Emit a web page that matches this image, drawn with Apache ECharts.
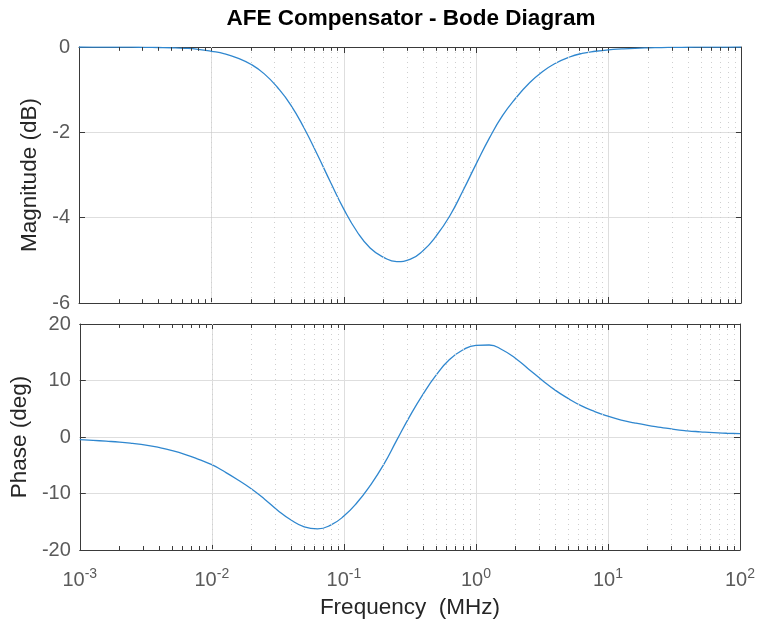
<!DOCTYPE html>
<html>
<head>
<meta charset="utf-8">
<script src="https://cdn.jsdelivr.net/npm/echarts@6/dist/echarts.min.js"></script>
<style>
  html, body { margin: 0; padding: 0; background: #fff; }
  #chart { width: 758px; height: 620px; }
</style>
</head>
<body>
<div id="chart"></div>
<script>
// frequency points (MHz), 10 per decade
let freq = [
  0.001, 0.00126, 0.00158, 0.002, 0.00251, 0.00316, 0.00398, 0.00501, 0.00631, 0.00794,
  0.01, 0.0126, 0.0158, 0.02, 0.0251, 0.0316, 0.0398, 0.0501, 0.0631, 0.0794,
  0.1, 0.126, 0.158, 0.2, 0.251, 0.316, 0.398, 0.501, 0.631, 0.794,
  1, 1.26, 1.58, 2, 2.51, 3.16, 3.98, 5.01, 6.31, 7.94,
  10, 12.6, 15.8, 20, 25.1, 31.6, 39.8, 50.1, 63.1, 79.4,
  100];
// magnitude (dB)
let magnitude = [
  0.000, -0.001, -0.002, -0.003, -0.005, -0.008, -0.012, -0.018, -0.03, -0.055,
  -0.10, -0.16, -0.26, -0.41, -0.63, -0.95, -1.36, -1.90, -2.52, -3.17,
  -3.80, -4.33, -4.71, -4.93, -5.03, -4.98, -4.77, -4.42, -3.96, -3.37,
  -2.74, -2.13, -1.61, -1.19, -0.85, -0.58, -0.38, -0.24, -0.15, -0.10,
  -0.065, -0.045, -0.03, -0.02, -0.013, -0.009, -0.006, -0.004, -0.002, -0.001,
  0.000];
// phase (deg)
let phase = [
  -0.48, -0.6, -0.74, -0.9, -1.13, -1.42, -1.85, -2.4, -3.1, -3.95,
  -4.9, -6.2, -7.6, -9.2, -11.0, -13.0, -14.7, -15.9, -16.25, -15.6,
  -14.0, -11.6, -8.6, -4.9, -0.6, 3.7, 7.6, 11.0, 13.7, 15.4,
  16.22, 16.28, 15.45, 13.9, 12.0, 10.1, 8.3, 6.8, 5.5, 4.5,
  3.68, 3.0, 2.5, 2.05, 1.7, 1.35, 1.1, 0.92, 0.76, 0.66,
  0.58];

let decades = [-3, -2, -1, 0, 1, 2];

let myChart = echarts.init(document.getElementById('chart'));

let magData = [];
let phaseData = [];
for (let i = 0; i < freq.length; i++) {
  magData.push([freq[i], magnitude[i]]);
  phaseData.push([freq[i], phase[i]]);
}

let lineColor = '#2f87cf';
let boxColor = '#3a3a3a';
let labelColor = '#5a5a5a';
let font = 'Liberation Sans, Arial, sans-serif';

// dotted minor grid lines at 2..9 x 10^n, plus little minor ticks on the top/bottom edges
function minorMarks(yMin, yMax, tickLen) {
  let out = [];
  for (let d = 0; d < decades.length - 1; d++) {
    for (let k = 2; k <= 9; k++) {
      let f = k * Math.pow(10, decades[d]);
      out.push({ xAxis: f });
      out.push([
        { coord: [f, yMin], lineStyle: { color: boxColor, type: 'solid', width: 1 } },
        { coord: [f, yMin + tickLen] }
      ]);
      out.push([
        { coord: [f, yMax], lineStyle: { color: boxColor, type: 'solid', width: 1 } },
        { coord: [f, yMax - tickLen] }
      ]);
    }
  }
  return out;
}

function xAxisOpt(gridIndex, pos, showLabel) {
  return {
    type: 'log',
    logBase: 10,
    gridIndex: gridIndex,
    position: pos,
    min: 0.001,
    max: 100,
    axisLine: { show: true, onZero: false, lineStyle: { color: boxColor, width: 1 } },
    axisTick: { show: true, inside: true, length: 6, lineStyle: { color: boxColor } },
    splitLine: { show: pos == 'bottom', lineStyle: { color: '#dedede', width: 1 } },
    axisLabel: {
      show: showLabel,
      margin: 17,
      formatter: function (v) {
        let e = Math.round(Math.log10(v));
        return '{b|10}{s|' + e + '}';
      },
      rich: {
        b: { fontSize: 20, color: labelColor, fontFamily: font, lineHeight: 24 },
        s: { fontSize: 14, color: labelColor, fontFamily: font, verticalAlign: 'top', padding: [0, 0, 12, 0] }
      }
    }
  };
}

function yAxisOpt(gridIndex, pos, min, max, interval, name, gap) {
  let left = pos == 'left';
  return {
    type: 'value',
    gridIndex: gridIndex,
    position: pos,
    min: min,
    max: max,
    interval: interval,
    name: left ? name : '',
    nameLocation: 'middle',
    nameGap: gap,
    nameTextStyle: { fontSize: 22.5, color: '#262626', fontFamily: font },
    axisLine: { show: true, onZero: false, lineStyle: { color: boxColor, width: 1 } },
    axisTick: { show: true, inside: true, length: 6, lineStyle: { color: boxColor } },
    splitLine: { show: left, lineStyle: { color: '#dedede', width: 1 } },
    axisLabel: { show: left, fontSize: 20, color: labelColor, fontFamily: font, margin: 9 }
  };
}

let option = {
  animation: false,
  backgroundColor: '#fff',
  title: {
    text: 'AFE Compensator - Bode Diagram',
    left: 406,
    textAlign: 'center',
    top: 2,
    textStyle: { fontSize: 22.5, fontWeight: 'bold', color: '#000', fontFamily: font }
  },
  grid: [
    { left: 79, top: 47, width: 662, height: 256 },
    { left: 79, top: 324, width: 662, height: 226 }
  ],
  xAxis: [
    xAxisOpt(0, 'bottom', false),
    xAxisOpt(0, 'top', false),
    Object.assign(xAxisOpt(1, 'bottom', true), {
      name: 'Frequency  (MHz)',
      nameLocation: 'middle',
      nameGap: 46,
      nameTextStyle: { fontSize: 22.5, color: '#262626', fontFamily: font }
    }),
    xAxisOpt(1, 'top', false)
  ],
  yAxis: [
    yAxisOpt(0, 'left', -6, 0, 2, 'Magnitude (dB)', 33),
    yAxisOpt(0, 'right', -6, 0, 2, '', 0),
    yAxisOpt(1, 'left', -20, 20, 10, 'Phase (deg)', 44),
    yAxisOpt(1, 'right', -20, 20, 10, '', 0)
  ],
  series: [
    {
      type: 'line',
      xAxisIndex: 0,
      yAxisIndex: 0,
      data: magData,
      smooth: 0.5,
      showSymbol: false,
      lineStyle: { color: lineColor, width: 1.3 },
      markLine: {
        silent: true,
        symbol: 'none',
        label: { show: false },
        lineStyle: { color: '#cfcfcf', type: [1, 4], width: 1 },
        data: minorMarks(-6, 0, 0.09)
      },
      z: 3
    },
    {
      type: 'line',
      xAxisIndex: 2,
      yAxisIndex: 2,
      data: phaseData,
      smooth: 0.5,
      showSymbol: false,
      lineStyle: { color: lineColor, width: 1.3 },
      markLine: {
        silent: true,
        symbol: 'none',
        label: { show: false },
        lineStyle: { color: '#cfcfcf', type: [1, 4], width: 1 },
        data: minorMarks(-20, 20, 0.7)
      },
      z: 3
    }
  ]
};

myChart.setOption(option);
</script>
</body>
</html>
